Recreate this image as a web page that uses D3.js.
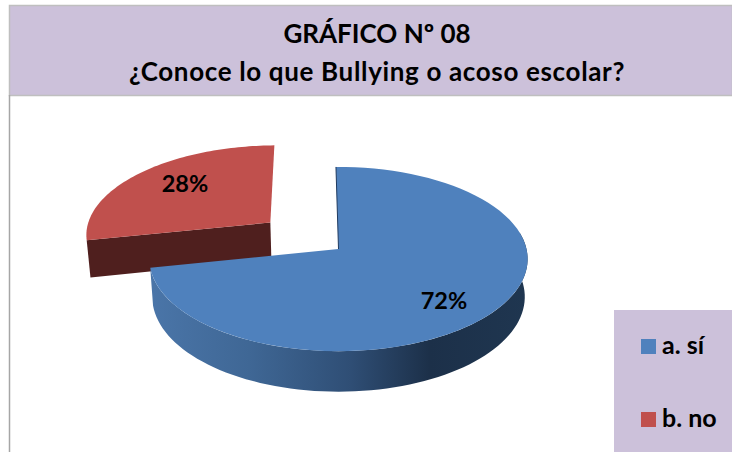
<!DOCTYPE html>
<html><head><meta charset="utf-8">
<script src="https://cdnjs.cloudflare.com/ajax/libs/d3/7.8.5/d3.min.js"></script>
<style>html,body{margin:0;padding:0;background:#fff}svg{display:block}text{font-family:Lato,"Open Sans",sans-serif;font-weight:700;fill:#000}</style>
</head><body><svg id="c" width="732" height="452"></svg>
<script>
const categories = ["a. sí", "b. no"];
const values = [72, 28];
const labels = ["72%", "28%"];
const titleLines = ["GRÁFICO Nº 08", "¿Conoce lo que Bullying o acoso escolar?"];
const topColors = ["#4f81bd", "#c0504d"];
const wallColors = ["#1f3a5f", "#4f1f1e"];

const svg = d3.select("#c");
const cx = 338.5, cy = 249, Ax = 188, Ay = 91, k = 0.109, D = 37.5, zShrink = 0.015, explode = 0.48;
const TAU = Math.PI * 2;

const arcs = d3.pie().value(d => d).sort(null).startAngle(-0.015).endAngle(TAU - 0.015)(values);
const rScale = d3.scaleLinear().domain([0, 1]).range([0, 1]);

function project(X, Y, z) {
  const den = 1 + k * Y, s = 1 - zShrink * z;
  return [cx + Ax * X / den * s, cy - Ay * Y / den * s + z * D / den];
}
function rim(a, off, z) { return project(off[0] + rScale(1) * Math.sin(a), off[1] + rScale(1) * Math.cos(a), z); }
function offsetOf(d, i) {
  if (i === 0) return [0, 0];
  const m = (d.startAngle + d.endAngle) / 2;
  return [explode * Math.sin(m), explode * Math.cos(m)];
}
const line = d3.line();
function arcPts(a0, a1, off, z) { return d3.range(0, 81).map(j => rim(a0 + (a1 - a0) * j / 80, off, z)); }

const defs = svg.append("defs");
const g = defs.append("linearGradient").attr("id", "side").attr("gradientUnits", "userSpaceOnUse")
  .attr("x1", 152).attr("x2", 527).attr("y1", 0).attr("y2", 0);
[[0, "#4a75a8"], [0.26, "#3f6795"], [0.53, "#2f4e75"], [0.74, "#1c3049"], [1, "#1f3650"]]
  .forEach(s => g.append("stop").attr("offset", s[0]).attr("stop-color", s[1]));

// header
svg.append("rect").attr("x", 9.5).attr("y", 5.5).attr("width", 723).attr("height", 90)
  .attr("fill", "#ccc1da").attr("stroke", "#bfbfbf").attr("stroke-width", 1.5);
svg.append("line").attr("x1", 9.5).attr("x2", 9.5).attr("y1", 95).attr("y2", 452).attr("stroke", "#a6a6a6").attr("stroke-width", 1.5);
svg.selectAll(".t").data(titleLines).join("text").attr("class", "t")
  .attr("x", 377).attr("y", (d, i) => 43 + i * 38).attr("text-anchor", "middle").attr("font-size", 26)
  .attr("letter-spacing", (d, i) => i ? 0.65 : 0).text(d => d);

// red slice
{
  const d = arcs[1], off = offsetOf(d, 1);
  const apexT = project(off[0], off[1], 0), apexB = project(off[0], off[1], 1);
  const rimT = rim(d.startAngle, off, 0), rimB = rim(d.startAngle, off, 1);
  svg.append("path").attr("d", line([apexT, rimT, rimB, apexB]) + "Z").attr("fill", wallColors[1]);
  svg.append("path").attr("d", line([apexT, ...arcPts(d.startAngle, d.endAngle, off, 0)]) + "Z").attr("fill", topColors[1]);
}
// blue slice
{
  const d = arcs[0], off = offsetOf(d, 0);
  const a0 = Math.PI * 0.44, a1 = d.endAngle;
  const upper = arcPts(a0, a1, off, 0), lower = arcPts(a0, a1, off, 1).reverse();
  svg.append("path").attr("d", line([...upper, ...lower]) + "Z").attr("fill", "url(#side)");
  const apex = project(off[0], off[1], 0);
  svg.append("path").attr("d", line([apex, ...arcPts(d.startAngle, d.endAngle, off, 0)]) + "Z").attr("fill", topColors[0]);
  svg.append("path").attr("d", line([rim(d.startAngle, off, 0), apex])).attr("fill", "none").attr("stroke", wallColors[0]).attr("stroke-width", 1);
}
// data labels
const labelPos = [[444, 309], [185, 192]];
svg.selectAll(".l").data(labels).join("text").attr("class", "l")
  .attr("x", (d, i) => labelPos[i][0]).attr("y", (d, i) => labelPos[i][1])
  .attr("text-anchor", "middle").attr("font-size", 23.5).text(d => d);

// legend
svg.append("rect").attr("x", 614).attr("y", 310).attr("width", 118).attr("height", 142).attr("fill", "#ccc1da");
const legY = d3.scalePoint().domain(categories).range([339, 412]);
categories.forEach((c, i) => {
  svg.append("rect").attr("x", 641).attr("y", legY(c)).attr("width", 15).attr("height", 15).attr("fill", topColors[i]);
  svg.append("text").attr("x", 662).attr("y", legY(c) + 14.5).attr("font-size", 25).text(c);
});
</script></body></html>
